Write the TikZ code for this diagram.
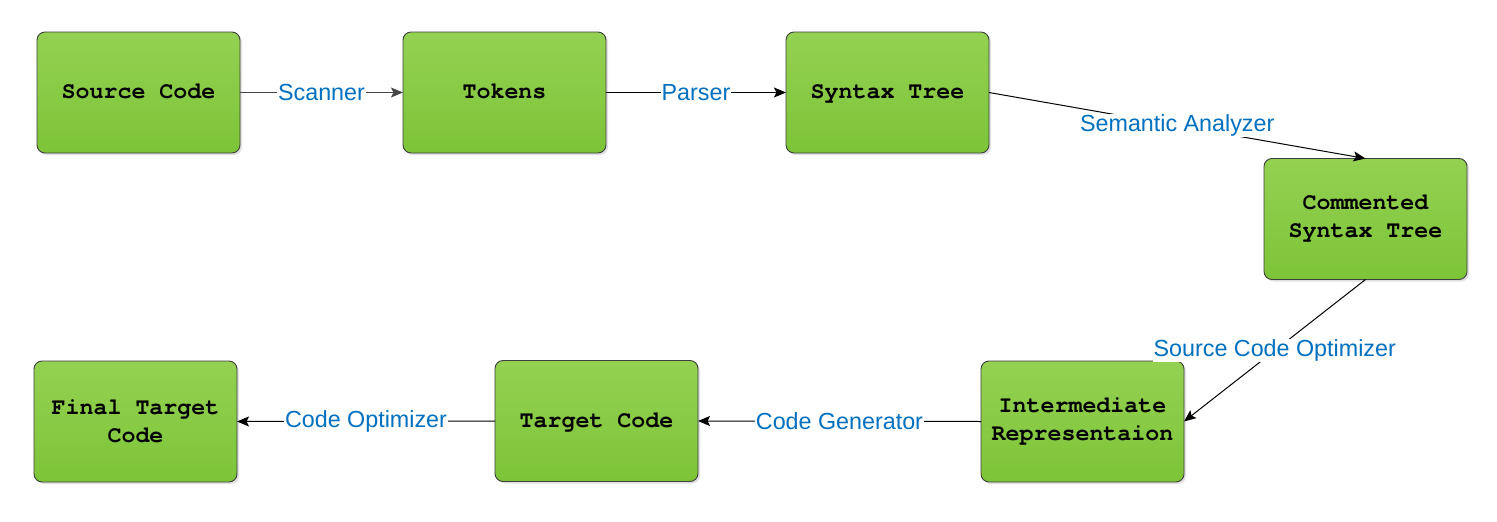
\documentclass[tikz,border=0pt]{standalone}
\usepackage{fontspec}
\setmainfont{Liberation Sans}
\newfontfamily\boxfont{TeX Gyre Cursor}
\usetikzlibrary{arrows.meta,shadows}
\definecolor{gtop}{HTML}{94D152}
\definecolor{gbot}{HTML}{7DC438}
\definecolor{gedge}{HTML}{3F3F3F}
\definecolor{lblue}{HTML}{0070C0}
\tikzset{
  stagebox/.style={draw=gedge, line width=0.9pt, rounded corners=8pt,
    top color=gtop, bottom color=gbot, minimum width=203pt, minimum height=121pt,
    outer sep=0pt, align=center,
    font=\boxfont\bfseries\fontsize{23.3}{28}\selectfont,
    drop shadow={shadow xshift=2pt, shadow yshift=-2pt, fill=black, opacity=0.12}},
  oneline/.style={text height=17pt, text depth=4.5pt},
  flow/.style={draw=black, line width=1pt, -{Stealth[length=12pt,width=10pt,inset=2.5pt]}},
  flowlabel/.style={midway, fill=white, inner sep=1pt, text=lblue,
    font=\fontsize{23.3}{26}\selectfont}
}
\begin{document}
\begin{tikzpicture}[x=1pt,y=-1pt]
\useasboundingbox (0,0) rectangle (1497,522);
\node[stagebox,oneline] (src) at (138.5,92.5) {Source Code};
\node[stagebox,oneline] (tok) at (504.5,92.5) {Tokens};
\node[stagebox,oneline] (syn) at (887.5,92.5) {Syntax Tree};
\node[stagebox] (com) at (1365.5,219) {Commented\\Syntax Tree};
\node[stagebox] (ir)  at (1082.5,421.5) {Intermediate\\Representaion};
\node[stagebox,oneline] (tgt) at (596.5,421) {Target Code};
\node[stagebox] (fin) at (135.5,421.5) {Final Target\\Code};
\draw[flow, draw=black!72] (src.east) -- node[flowlabel] {Scanner} (tok.west);
\draw[flow] (tok.east) -- node[flowlabel] {Parser} (syn.west);
\draw[flow] (syn.east) -- node[flowlabel] {Semantic Analyzer} (com.north);
\draw[flow] (com.south) -- node[flowlabel] {Source Code Optimizer} (ir.east);
\draw[flow] (ir.west) -- node[flowlabel] {Code Generator} (tgt.east);
\draw[flow] (tgt.west) -- node[flowlabel] {Code Optimizer} (fin.east);
\end{tikzpicture}
\end{document}
